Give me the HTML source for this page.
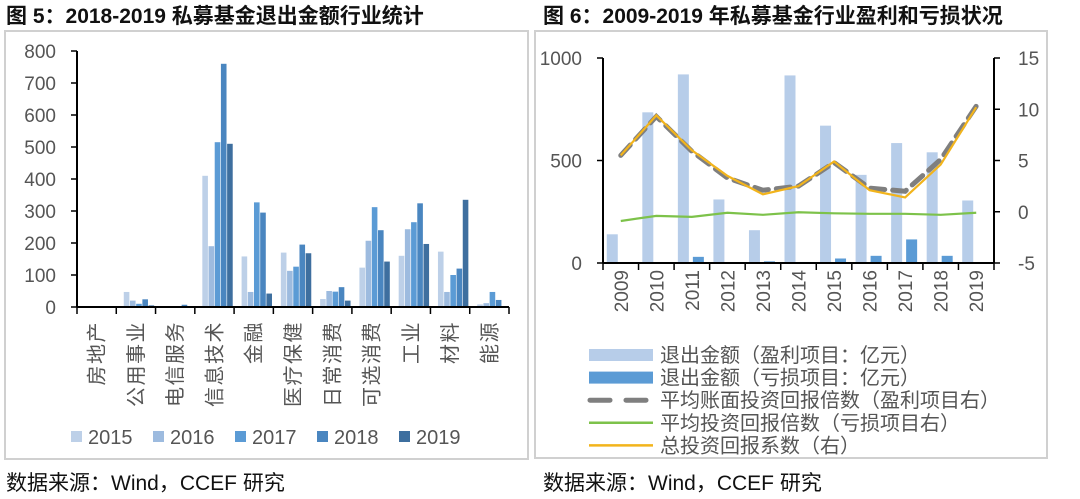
<!DOCTYPE html>
<html><head><meta charset="utf-8">
<style>
body{margin:0;background:#fff;width:1080px;height:499px;overflow:hidden;font-family:"Liberation Sans","Noto Sans CJK SC",sans-serif;}
svg{position:absolute;left:0;top:0}
</style></head>
<body>
<svg id="s" width="1080" height="499" xmlns="http://www.w3.org/2000/svg">
<text x="6" y="23" font-size="21" fill="#111" font-weight="bold" font-family="Liberation Sans, Noto Sans CJK SC, sans-serif">图 5：2018-2019 私募基金退出金额行业统计</text>
<text x="543" y="23" font-size="21" fill="#111" font-weight="bold" font-family="Liberation Sans, Noto Sans CJK SC, sans-serif">图 6：2009-2019 年私募基金行业盈利和亏损状况</text>
<rect x="5" y="31" width="523" height="428" fill="none" stroke="#d0d0d0" stroke-width="2"/>
<rect x="535" y="31" width="512" height="427" fill="none" stroke="#d0d0d0" stroke-width="2"/>
<text x="6" y="490" font-size="21" fill="#111" font-family="Liberation Sans, Noto Sans CJK SC, sans-serif">数据来源：Wind，CCEF 研究</text>
<text x="543" y="490" font-size="21" fill="#111" font-family="Liberation Sans, Noto Sans CJK SC, sans-serif">数据来源：Wind，CCEF 研究</text>
<g id="L"></g><g id="R"></g>
</svg>
<script>
const leftCategories=["房地产","公用事业","电信服务","信息技术","金融","医疗保健","日常消费","可选消费","工业","材料","能源"];
const leftSeriesNames=["2015","2016","2017","2018","2019"];
const v2015=[2,47,0,410,158,170,25,123,160,173,8];
const v2016=[0,20,0,190,47,113,50,207,243,47,12];
const v2017=[0,10,0,515,327,126,48,312,265,100,47];
const v2018=[0,24,7,760,295,195,62,240,324,120,22];
const v2019=[0,5,0,510,42,168,20,142,197,335,0];
const leftTicks=[0,100,200,300,400,500,600,700,800];

const years=["2009","2010","2011","2012","2013","2014","2015","2016","2017","2018","2019"];
const profitAmt=[140,735,920,310,160,915,670,430,585,540,305];
const lossAmt=[0,0,30,0,8,5,22,35,115,35,0];
const avgBookMult=[5.5,9.3,5.9,3.3,2.1,2.5,4.8,2.3,2.0,5.1,10.3];
const avgLossMult=[-0.9,-0.4,-0.5,-0.1,-0.3,-0.05,-0.15,-0.2,-0.2,-0.3,-0.1];
const totalCoef=[5.5,9.4,6.0,3.5,1.7,2.5,4.9,2.1,1.4,4.6,10.2];
const leftAxisTicks=[0,500,1000];
const rightAxisTicks=[-5,0,5,10,15];

const NS="http://www.w3.org/2000/svg";
const FF="Liberation Sans, Noto Sans CJK SC, sans-serif";
function mk(p,t,a){const e=document.createElementNS(NS,t);for(const k in a)e.setAttribute(k,a[k]);p.appendChild(e);return e;}

// LEFT CHART
const L=document.getElementById('L');
const lx0=77,lx1=509,ly0=307,ly800=51;
const ly=v=>ly0-(v/800)*(ly0-ly800);
const cw=(lx1-lx0)/leftCategories.length;
const lcols=["#bdd0e8","#9dbbdf","#5b9bd5","#4a86c0","#3e6f9f"];
const lseries=[v2015,v2016,v2017,v2018,v2019];
leftTicks.forEach(t=>{
  const e=mk(L,'text',{x:56,y:ly(t)+7,'font-size':19,fill:'#555','text-anchor':'end','font-family':FF});
  e.textContent=t;
  
  
  const m=mk(L,'line',{x1:lx0-6,x2:lx0,y1:ly(t),y2:ly(t),stroke:'#000','stroke-width':1.5});
  
  
});
lseries.forEach((s,si)=>{
  s.forEach((v,ci)=>{
    const x=lx0+ci*cw+7.5+si*6.2;
    const r=mk(L,'rect',{x:x,y:ly(v),width:5.6,height:ly0-ly(v),fill:lcols[si]});
    
    
  });
});
let ax=mk(L,'line',{x1:lx0,x2:lx0,y1:ly800,y2:ly0,stroke:'#000','stroke-width':2});


ax=mk(L,'line',{x1:lx0,x2:lx1,y1:ly0,y2:ly0,stroke:'#000','stroke-width':2});


for(let i=0;i<=leftCategories.length;i++){
  const m=mk(L,'line',{x1:lx0+i*cw,x2:lx0+i*cw,y1:ly0,y2:ly0+7,stroke:'#000','stroke-width':1.5});
  
  
}
leftCategories.forEach((c,i)=>{
  const cx=lx0+(i+0.5)*cw+7, yy=321;
  const e=mk(L,'text',{x:cx,y:yy,'font-size':20,fill:'#555','text-anchor':'end','font-family':FF,'letter-spacing':'1.5',transform:`rotate(-90 ${cx} ${yy})`});
  e.textContent=c;
  
  
});
leftSeriesNames.forEach((n,i)=>{
  const x=71+i*82;
  const r=mk(L,'rect',{x:x,y:431,width:11,height:11,fill:lcols[i]});
  
  
  const t=mk(L,'text',{x:x+17,y:444,'font-size':20,fill:'#555','font-family':FF});
  t.textContent=n;
  
  
});

// RIGHT CHART
const R=document.getElementById('R');
const rx0=603,rx1=994,ry0=263,ryTop=58;
const yl=v=>ry0-(v/1000)*(ry0-ryTop);
const yr=v=>ry0-((v+5)/20)*(ry0-ryTop);
const rw=(rx1-rx0)/years.length;
const rcx=i=>rx0+(i+0.5)*rw;
leftAxisTicks.forEach(t=>{
  const e=mk(R,'text',{x:582,y:yl(t)+7,'font-size':19,fill:'#555','text-anchor':'end','font-family':FF});
  e.textContent=t;
  
  
  const m=mk(R,'line',{x1:rx0-6,x2:rx0,y1:yl(t),y2:yl(t),stroke:'#000','stroke-width':1.5});
  
  
});
rightAxisTicks.forEach(t=>{
  const e=mk(R,'text',{x:1018,y:yr(t)+7,'font-size':19,fill:'#555','font-family':FF});
  e.textContent=t;
  
  
  const m=mk(R,'line',{x1:rx1,x2:rx1+6,y1:yr(t),y2:yr(t),stroke:'#000','stroke-width':1.5});
  
  
});
profitAmt.forEach((v,i)=>{
  const r=mk(R,'rect',{x:rcx(i)-14,y:yl(v),width:11,height:ry0-yl(v),fill:'#b7cde9'});
  
  
});
lossAmt.forEach((v,i)=>{
  const r=mk(R,'rect',{x:rcx(i)+1,y:yl(v),width:11,height:ry0-yl(v),fill:'#5b9bd5'});
  
  
});
const pts=a=>a.map((v,i)=>rcx(i)+','+yr(v)).join(' ');
let pl=mk(R,'polyline',{points:pts(avgBookMult),fill:'none',stroke:'#7f7f7f','stroke-width':5,'stroke-dasharray':'14,8','stroke-linecap':'round'});


pl=mk(R,'polyline',{points:pts(avgLossMult),fill:'none',stroke:'#7dc24a','stroke-width':2.2});


pl=mk(R,'polyline',{points:pts(totalCoef),fill:'none',stroke:'#f2b41c','stroke-width':2.2});


ax=mk(R,'line',{x1:rx0,x2:rx0,y1:ryTop,y2:ry0,stroke:'#000','stroke-width':2});


ax=mk(R,'line',{x1:rx1,x2:rx1,y1:ryTop,y2:ry0,stroke:'#000','stroke-width':2});


ax=mk(R,'line',{x1:rx0,x2:rx1,y1:ry0,y2:ry0,stroke:'#000','stroke-width':2});


for(let i=0;i<=years.length;i++){
  const m=mk(R,'line',{x1:rx0+i*rw,x2:rx0+i*rw,y1:ry0,y2:ry0+7,stroke:'#000','stroke-width':1.5});
  
  
}
years.forEach((y,i)=>{
  const x=rcx(i)+7,yy=270;
  const e=mk(R,'text',{x:x,y:yy,'font-size':19,fill:'#555','text-anchor':'end','font-family':FF,transform:`rotate(-90 ${x} ${yy})`});
  e.textContent=y;
  
  
});
const legItems=[
 ["退出金额（盈利项目：亿元）","rect","#b7cde9"],
 ["退出金额（亏损项目：亿元）","rect","#5b9bd5"],
 ["平均账面投资回报倍数（盈利项目右）","dash","#7f7f7f"],
 ["平均投资回报倍数（亏损项目右）","line","#7dc24a"],
 ["总投资回报系数（右）","line","#f2b41c"]];
legItems.forEach((it,i)=>{
  const cy=355+i*22.6;
  let s;
  if(it[1]=="rect") s=mk(R,'rect',{x:589,y:cy-6,width:64,height:12,fill:it[2]});
  else if(it[1]=="dash") s=mk(R,'line',{x1:590,x2:653,y1:cy,y2:cy,stroke:it[2],'stroke-width':5,'stroke-dasharray':'20,16','stroke-linecap':'round'});
  else s=mk(R,'line',{x1:589,x2:653,y1:cy,y2:cy,stroke:it[2],'stroke-width':2.5});
  
  
  const t=mk(R,'text',{x:660,y:cy+7,'font-size':20,fill:'#555','font-family':FF});
  t.textContent=it[0];
  
  
});
</script>
</body></html>
